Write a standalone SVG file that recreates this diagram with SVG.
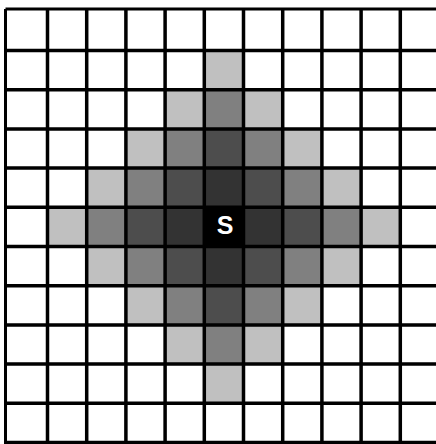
<svg xmlns="http://www.w3.org/2000/svg" width="436" height="444" viewBox="0 0 436 444">
<style>
.l4{fill:#c0c0c0}.l3{fill:#808080}.l2{fill:#4d4d4d}.l1{fill:#333333}.l0{fill:#000000}
.g{stroke:#000;stroke-width:3.5;fill:none}
.b{stroke:#000;stroke-width:3;fill:none}
.t{font-family:"Liberation Sans",Arial,sans-serif;font-weight:bold;font-size:25px;fill:#fff;text-anchor:middle}
</style>
<rect width="436" height="444" fill="#fff"/>
<g id="cells">
<g id="d4">
<rect class="l4" x="204.3" y="50.5" width="39.2" height="39.2"/>
<rect class="l4" x="165.1" y="89.7" width="39.2" height="39.2"/>
<rect class="l4" x="243.5" y="89.7" width="39.2" height="39.2"/>
<rect class="l4" x="125.9" y="128.9" width="39.2" height="39.2"/>
<rect class="l4" x="282.7" y="128.9" width="39.2" height="39.2"/>
<rect class="l4" x="86.7" y="168.1" width="39.2" height="39.2"/>
<rect class="l4" x="321.9" y="168.1" width="39.2" height="39.2"/>
<rect class="l4" x="47.5" y="207.3" width="39.2" height="39.2"/>
<rect class="l4" x="361.1" y="207.3" width="39.2" height="39.2"/>
<rect class="l4" x="86.7" y="246.5" width="39.2" height="39.2"/>
<rect class="l4" x="321.9" y="246.5" width="39.2" height="39.2"/>
<rect class="l4" x="125.9" y="285.7" width="39.2" height="39.2"/>
<rect class="l4" x="282.7" y="285.7" width="39.2" height="39.2"/>
<rect class="l4" x="165.1" y="324.9" width="39.2" height="39.2"/>
<rect class="l4" x="243.5" y="324.9" width="39.2" height="39.2"/>
<rect class="l4" x="204.3" y="364.1" width="39.2" height="39.2"/>
</g>
<g id="d3">
<rect class="l3" x="204.3" y="89.7" width="39.2" height="39.2"/>
<rect class="l3" x="165.1" y="128.9" width="39.2" height="39.2"/>
<rect class="l3" x="243.5" y="128.9" width="39.2" height="39.2"/>
<rect class="l3" x="125.9" y="168.1" width="39.2" height="39.2"/>
<rect class="l3" x="282.7" y="168.1" width="39.2" height="39.2"/>
<rect class="l3" x="86.7" y="207.3" width="39.2" height="39.2"/>
<rect class="l3" x="321.9" y="207.3" width="39.2" height="39.2"/>
<rect class="l3" x="125.9" y="246.5" width="39.2" height="39.2"/>
<rect class="l3" x="282.7" y="246.5" width="39.2" height="39.2"/>
<rect class="l3" x="165.1" y="285.7" width="39.2" height="39.2"/>
<rect class="l3" x="243.5" y="285.7" width="39.2" height="39.2"/>
<rect class="l3" x="204.3" y="324.9" width="39.2" height="39.2"/>
</g>
<g id="d2">
<rect class="l2" x="204.3" y="128.9" width="39.2" height="39.2"/>
<rect class="l2" x="165.1" y="168.1" width="39.2" height="39.2"/>
<rect class="l2" x="243.5" y="168.1" width="39.2" height="39.2"/>
<rect class="l2" x="125.9" y="207.3" width="39.2" height="39.2"/>
<rect class="l2" x="282.7" y="207.3" width="39.2" height="39.2"/>
<rect class="l2" x="165.1" y="246.5" width="39.2" height="39.2"/>
<rect class="l2" x="243.5" y="246.5" width="39.2" height="39.2"/>
<rect class="l2" x="204.3" y="285.7" width="39.2" height="39.2"/>
</g>
<g id="d1">
<rect class="l1" x="204.3" y="168.1" width="39.2" height="39.2"/>
<rect class="l1" x="165.1" y="207.3" width="39.2" height="39.2"/>
<rect class="l1" x="243.5" y="207.3" width="39.2" height="39.2"/>
<rect class="l1" x="204.3" y="246.5" width="39.2" height="39.2"/>
</g>
</g>
<g id="source">
<rect class="l0" x="204.3" y="207.3" width="39.2" height="39.2"/>
<text class="t" x="225" y="234">S</text>
</g>
<g id="grid">
<path class="b" d="M5.5 9V444M5.5 9H436"/>
<path class="g" d="M47.5 9V444M86.7 9V444M125.9 9V444M165.1 9V444M204.3 9V444M243.5 9V444M282.7 9V444M321.9 9V444M361.1 9V444M400.3 9V444"/>
<path class="g" d="M5.5 50.5H436M5.5 89.7H436M5.5 128.9H436M5.5 168.1H436M5.5 207.3H436M5.5 246.5H436M5.5 285.7H436M5.5 324.9H436M5.5 364.1H436M5.5 403.3H436M5.5 442.5H436"/>
</g>
</svg>
